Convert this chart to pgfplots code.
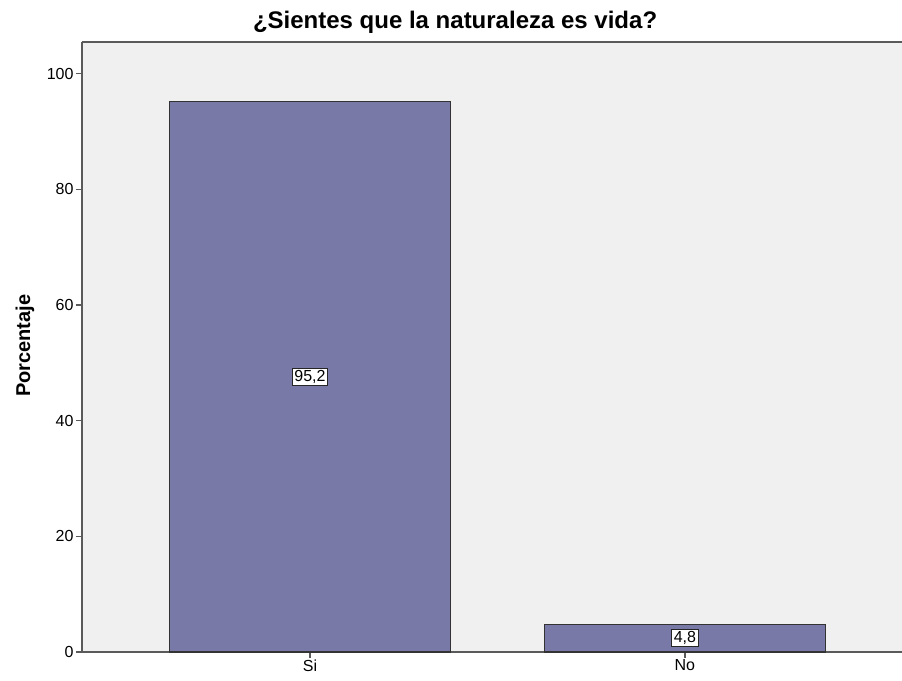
\documentclass[border=0pt]{standalone}
\usepackage{pgfplots}
\pgfplotsset{compat=1.18}
\usepackage{fontspec}
\setmainfont{Liberation Sans}
\definecolor{barfill}{RGB}{121,121,167}
\definecolor{plotbg}{RGB}{240,240,240}
\definecolor{axisgray}{RGB}{90,90,90}
\begin{document}
\begin{tikzpicture}
\begin{axis}[
    scale only axis,
    width=820pt, height=610pt,
    xmin=-0.608, xmax=1.579,
    ymin=0, ymax=105.5,
    axis background/.style={fill=plotbg},
    axis x line*=bottom, axis y line*=left,
    axis line style={axisgray, line width=1.6pt},
    xtick={0,1}, xticklabels={Si,No},
    ytick={0,20,40,60,80,100},
    tick align=outside, major tick length=6pt,
    tick style={axisgray, line width=1.2pt},
    ticklabel style={font=\fontsize{16}{18}\selectfont},
    /pgf/number format/assume math mode=true,
    yticklabel style={xshift=1pt},
    xticklabel style={yshift=2pt},
    title={¿Sientes que la naturaleza es vida?},
    title style={at={(0.455,1)}, anchor=base, yshift=7pt,
        font=\fontsize{24}{28}\selectfont\bfseries},
    ylabel={Porcentaje},
    ylabel style={at={(axis description cs:-0.0695,0.502)}, anchor=center,
        font=\fontsize{20}{23}\selectfont\bfseries},
    clip=false,
]
\addplot[ybar, bar width=281pt, fill=barfill, draw=black!80, line width=1.2pt]
    coordinates {(0,95.2) (1,4.8)};
\addplot[only marks, mark=none, point meta=explicit symbolic,
    nodes near coords,
    every node near coord/.style={anchor=center, fill=white, draw=black!85,
        line width=1pt, inner sep=2pt, font=\fontsize{16}{18}\selectfont}]
    table[meta=lab] {
x y lab
0 47.6 95,2
1 2.4 4,8
};
\draw[axisgray, line width=1.6pt] (rel axis cs:0,1) -- (rel axis cs:1,1);
\coordinate (bl) at (rel axis cs:0,0);
\end{axis}
\pgfresetboundingbox
\path ([shift={(-82pt,-28pt)}]bl) rectangle ([shift={(820pt,652pt)}]bl);
\end{tikzpicture}
\end{document}
